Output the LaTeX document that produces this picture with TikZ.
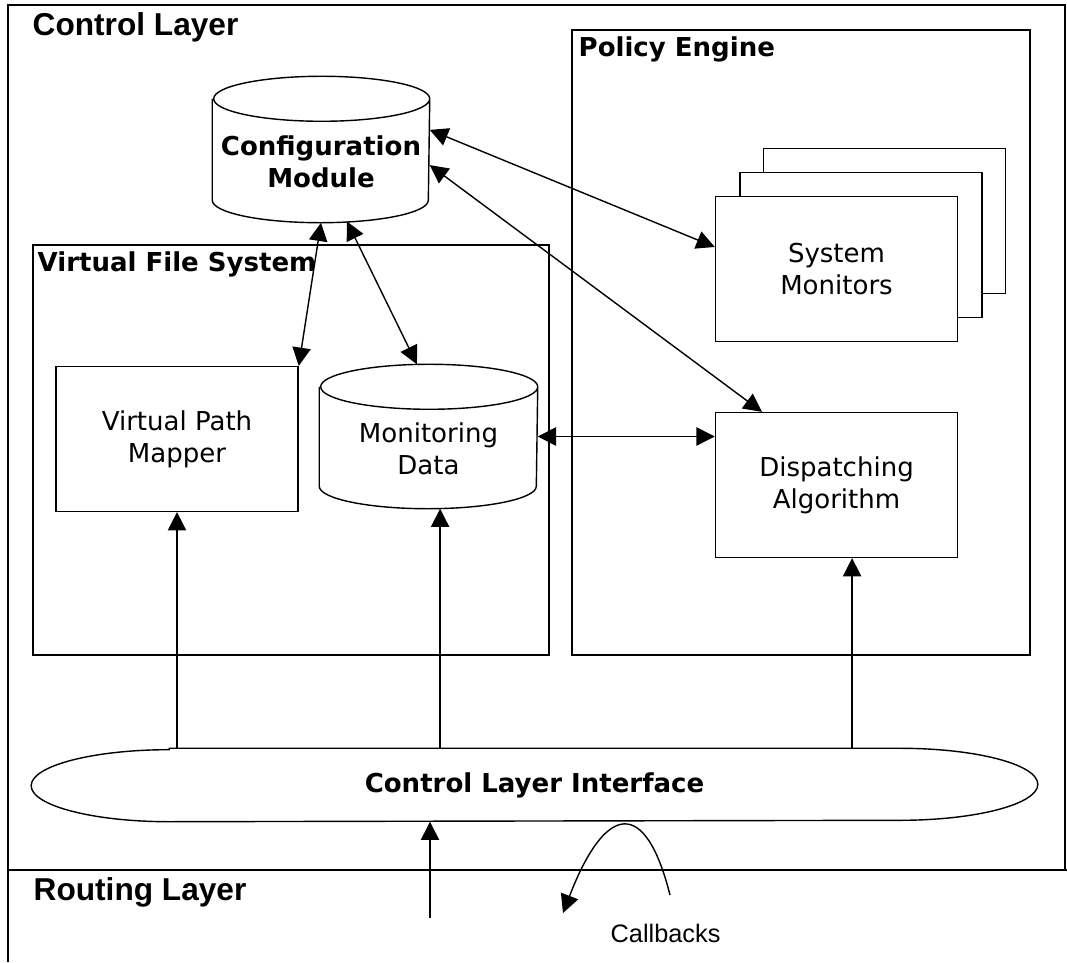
\documentclass[tikz,border=0pt]{standalone}
\usepackage{fontspec}
\setmainfont{DejaVu Sans}
\newfontfamily\arialfont{Liberation Sans}
\usetikzlibrary{arrows.meta}

% cylinder outline round a node: name, x radius
\newcommand\drum[2]{%
  \draw ([yshift=-0.5625cm]#1.north west) -- ([yshift=0.5625cm]#1.south west)
    arc[start angle=180, end angle=360, x radius=#2, y radius=0.5625cm]
    -- ([yshift=-0.5625cm]#1.north east)
    arc[start angle=0, end angle=360, x radius=#2, y radius=0.5625cm];}

\tikzset{
  box/.style={draw, fill=white, align=center, inner sep=0pt,
    minimum width=6.05cm, minimum height=3.62cm,
    font=\fontsize{18.5}{23}\selectfont},
  store/.style={inner sep=0pt},
  storetext/.style={align=center, yshift=-0.3cm, font=\fontsize{18.5}{23}\selectfont},
  frame/.style={draw, inner sep=0pt},
  layer/.style={anchor=base west, inner sep=0pt,
    font=\arialfont\bfseries\fontsize{22.5}{27}\selectfont},
  title/.style={anchor=base west, inner sep=0pt,
    font=\bfseries\fontsize{18.5}{23}\selectfont},
}

\begin{document}
\begin{tikzpicture}[>={Triangle[length=13pt,width=13pt]}, x=0.025cm, y=0.025cm, line width=1pt]
\useasboundingbox (0,0) rectangle (1067,962);
% layers
\draw (8,0) -- (8,957) -- (1065,957) -- (1065,92);
\draw (8,92) -- (1067,92);
\node[layer] (ctl) at (32,926) {Control Layer};
\node[layer] (rtl) at (33,62) {Routing Layer};
% policy engine and file system
\node[frame, minimum width=11.45cm, minimum height=15.625cm] (pe) at (801,619.5) {};
\node[title] (petitle) at (578,905) {Policy Engine};
\node[frame, minimum width=12.9cm, minimum height=10.25cm] (vfs) at (291,512) {};
\node[title] (vfstitle) at (37,690) {Virtual File System};
% modules
\node[store, minimum width=5.4cm, minimum height=3.625cm,
  label={[storetext, font=\bfseries\fontsize{18.5}{23}\selectfont]center:Configuration\\Module}] (cfg) at (321,812.5) {};
\drum{cfg}{2.7cm}
\node[store, minimum width=5.425cm, minimum height=3.575cm,
  label={[storetext]center:Monitoring\\Data}] (md) at (428.5,525.5) {};
\drum{md}{2.7125cm}
\node[box] (vpm) at (177,523) {Virtual Path\\Mapper};
\node[box] (mon3) at (884.5,741) {};
\node[box] (mon2) at (861,717) {};
\node[box] (mon) at (836.5,693) {System\\Monitors};
\node[box] (disp) at (836.5,477) {Dispatching\\Algorithm};
% interface
\node[inner sep=0pt, minimum width=25.125cm, minimum height=1.8cm, font=\bfseries\fontsize{18.5}{23}\selectfont] (cli) at (534.5,177) {Control Layer Interface};
\draw ([xshift=3.45cm]cli.north west) -- ([xshift=-3.45cm]cli.north east)
  arc[start angle=90, end angle=-90, x radius=3.45cm, y radius=0.9cm]
  -- ([xshift=3.45cm]cli.south west)
  arc[start angle=270, end angle=90, x radius=3.45cm, y radius=0.9cm] -- cycle;
% connectors
\draw[<->] ([yshift=0.49cm]cfg.east) -- ([yshift=0.55cm]mon.west);
\draw[<->] ([yshift=-0.39cm]cfg.east) -- ([xshift=1.18cm]disp.north west);
\draw[<->] (cfg.south) -- (vpm.north east);
\draw[<->] ([xshift=0.65cm,yshift=0.03cm]cfg.south) -- ([xshift=-0.29cm]md.north);
\draw[<->] (md.east) -- (md.east -| disp.west);
\coordinate (mdin) at ([xshift=0.29cm]md.south);
\coordinate (dpin) at ([xshift=0.39cm]disp.south);
\draw[->] (vpm.south |- cli.north) -- (vpm.south);
\draw[->] (mdin |- cli.north) -- (mdin);
\draw[->] (dpin |- cli.north) -- (dpin);
% routing layer
\coordinate (rin) at (430,44);
\draw[->] (rin) -- (rin |- cli.south);
\coordinate (cbfrom) at (670,67);
\coordinate (cbto) at (563,49);
\draw[->] (cbfrom) .. controls (645,166) and (605,158) .. (cbto);
\node[anchor=base west, inner sep=0pt, font=\arialfont\fontsize{18}{22}\selectfont] (cb) at (610,20) {Callbacks};
\end{tikzpicture}
\end{document}
